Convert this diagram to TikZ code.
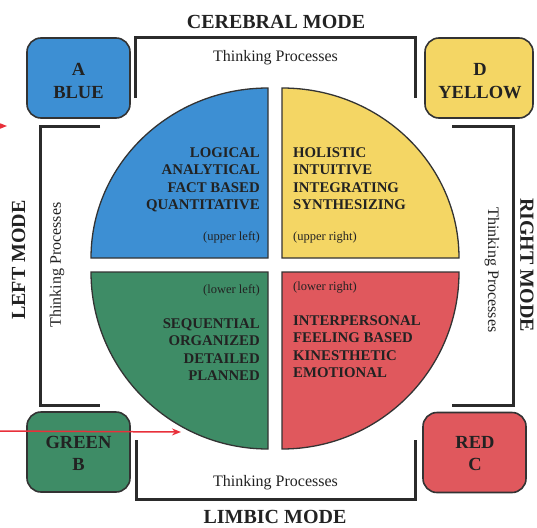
\documentclass[tikz,border=0pt]{standalone}
\usepackage{fontspec}
\setmainfont{Liberation Serif}
\usetikzlibrary{arrows.meta}
\definecolor{qblue}{HTML}{3D8FD3}
\definecolor{qyellow}{HTML}{F4D664}
\definecolor{qgreen}{HTML}{3E8C66}
\definecolor{qred}{HTML}{E0585D}
\definecolor{edgec}{HTML}{333333}
\definecolor{linec}{HTML}{2B2B2B}
\definecolor{textc}{HTML}{222222}
\definecolor{arrowred}{HTML}{E8303A}
\begin{document}
\begin{tikzpicture}[x=1pt,y=-1pt,
 bracket/.style={line width=3pt, draw=linec},
 quad/.style={draw=edgec, line width=1.3pt},
 colbox/.style={draw=edgec, line width=1.6pt, rounded corners=14pt, minimum width=103pt, minimum height=80pt, inner sep=0pt},
 boxlabel/.style={font=\bfseries\fontsize{18.5}{22.5}\selectfont, align=center, text=textc, inner sep=0pt},
 modelabel/.style={font=\bfseries\fontsize{20}{24}\selectfont, text=textc, inner sep=0pt},
 thinking/.style={font=\fontsize{16}{18}\selectfont, text=textc, inner sep=0pt},
 qtext/.style={font=\bfseries\fontsize{14.8}{17.5}\selectfont, text=textc, inner sep=0pt},
 qsmall/.style={font=\fontsize{12.5}{14}\selectfont, text=textc, inner sep=0pt},
 redarrow/.style={draw=arrowred, line width=1.5pt, -{Stealth[length=9pt,width=7pt]}}
]
\useasboundingbox (0,0) rectangle (537,527);
\clip (0,0) rectangle (537,527);

% quadrants
\filldraw[quad, fill=qblue] (268,258) -- (91,258) arc[start angle=180, end angle=270, x radius=177, y radius=170] -- cycle;
\filldraw[quad, fill=qyellow] (282,258) -- (282,88) arc[start angle=270, end angle=360, x radius=177, y radius=170] -- cycle;
\filldraw[quad, fill=qgreen] (268,272) -- (91,272) arc[start angle=180, end angle=90, x radius=177, y radius=177] -- cycle;
\filldraw[quad, fill=qred] (282,272) -- (459,272) arc[start angle=0, end angle=90, x radius=177, y radius=177] -- cycle;

% brackets
\draw[bracket] (135,98) -- (135,38) -- (415,38) -- (415,98);
\draw[bracket] (136,440) -- (136,499) -- (415,499) -- (415,440);
\draw[bracket] (100,126) -- (40,126) -- (40,405) -- (100,405);
\draw[bracket] (452,126) -- (513,126) -- (513,405) -- (452,405);

% corner boxes
\node[colbox, fill=qblue] (boxA) at (78.5,78) {};
\node[colbox, fill=qyellow, minimum width=108pt] (boxD) at (479,78) {};
\node[colbox, fill=qgreen] (boxB) at (78.5,452) {};
\node[colbox, fill=qred] (boxC) at (474.5,452.5) {};
\node[boxlabel] (labA) at (78.5,81) {A\\BLUE};
\node[boxlabel] (labD) at (480,81) {D\\YELLOW};
\node[boxlabel] (labB) at (78.5,453.5) {GREEN\\B};
\node[boxlabel] (labC) at (475,453.5) {RED\\C};

% mode labels
\node[modelabel, anchor=base] (cerebral) at (276,28.5) {CEREBRAL MODE};
\node[modelabel, anchor=base] (limbic) at (275,523) {LIMBIC MODE};
\node[modelabel, rotate=90] (leftmode) at (18.5,260) {LEFT MODE};
\node[modelabel, rotate=-90] (rightmode) at (527,265) {RIGHT MODE};

% thinking processes
\node[thinking, anchor=base] (tpTop) at (275.5,61.5) {Thinking Processes};
\node[thinking, anchor=base] (tpBot) at (275.5,486.5) {Thinking Processes};
\node[thinking, rotate=90] (tpLeft) at (57,265) {Thinking Processes};
\node[thinking, rotate=-90] (tpRight) at (492,270) {Thinking Processes};

% quadrant texts
\node[qtext, align=right, anchor=north east] (tBlue) at (260,147) {LOGICAL\\ANALYTICAL\\FACT BASED\\QUANTITATIVE};
\node[qsmall, anchor=east] (sBlue) at (260,237) {(upper left)};
\node[qtext, align=left, anchor=north west] (tYellow) at (293,147) {HOLISTIC\\INTUITIVE\\INTEGRATING\\SYNTHESIZING};
\node[qsmall, anchor=west] (sYellow) at (293,238) {(upper right)};
\node[qsmall, anchor=east] (sGreen) at (260,290) {(lower left)};
\node[qtext, align=right, anchor=north east] (tGreen) at (260,318) {SEQUENTIAL\\ORGANIZED\\DETAILED\\PLANNED};
\node[qsmall, anchor=west] (sRed) at (293,288) {(lower right)};
\node[qtext, align=left, anchor=north west] (tRed) at (293,315) {INTERPERSONAL\\FEELING BASED\\KINESTHETIC\\EMOTIONAL};

% red arrows
\coordinate (ra1s) at (-30,126);
\coordinate (ra1e) at (7,126);
\coordinate (ra2s) at (-5,431);
\coordinate (ra2e) at (181,432);
\draw[redarrow] (ra1s) -- (ra1e);
\draw[redarrow] (ra2s) -- (ra2e);
\end{tikzpicture}
\end{document}
